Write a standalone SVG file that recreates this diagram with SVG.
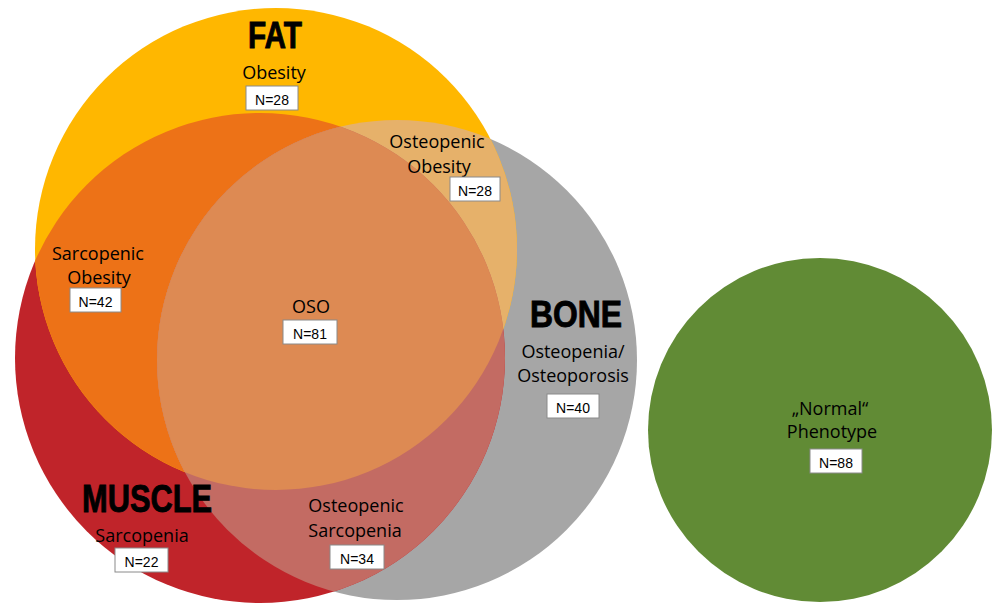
<svg xmlns="http://www.w3.org/2000/svg" width="992" height="603" viewBox="0 0 992 603">
<style>
.lbl{font-family:"Open Sans","Liberation Sans",sans-serif;font-size:18px;fill:#000;text-anchor:middle}
.ttl{font-family:"Liberation Sans",Arial,sans-serif;font-weight:bold;font-size:36px;fill:#000;stroke:#000;stroke-width:0.9}
.nb{fill:#fff;stroke:#8a8a8a;stroke-width:1}
.nt{font-family:"Liberation Sans",Arial,sans-serif;font-size:14px;fill:#000;text-anchor:middle}
</style>
<defs>
<circle id="fatC" cx="276" cy="249" r="241"/>
<circle id="musC" cx="260" cy="358" r="245"/>
<circle id="bonC" cx="397" cy="360" r="240"/>
<clipPath id="cF"><use href="#fatC"/></clipPath>
<clipPath id="cM"><use href="#musC"/></clipPath>
</defs>
<rect width="992" height="603" fill="#fff"/>
<g id="bone">
<use href="#bonC" fill="#a6a6a6"/>
</g>
<g id="muscle">
<use href="#musC" fill="#c0242a"/>
</g>
<g id="fat">
<use href="#fatC" fill="#ffb700"/>
</g>
<g id="sarcopenic-obesity-region">
<use href="#musC" fill="#ed7217" clip-path="url(#cF)"/>
</g>
<g id="osteopenic-obesity-region">
<use href="#bonC" fill="#e6b16a" clip-path="url(#cF)"/>
</g>
<g id="osteopenic-sarcopenia-region">
<use href="#bonC" fill="#c36b63" clip-path="url(#cM)"/>
</g>
<g id="oso-region" clip-path="url(#cF)">
<use href="#bonC" fill="#dd8a53" clip-path="url(#cM)"/>
</g>
<g id="normal">
<circle cx="820" cy="430" r="172" fill="#618b35"/>
</g>

<g id="fat-label">
<text class="ttl" x="248" y="48" textLength="54" lengthAdjust="spacingAndGlyphs">FAT</text>
<text class="lbl" x="274" y="79">Obesity</text>
<rect class="nb" x="246" y="86" width="52" height="24"/>
<text class="nt" x="272" y="105">N=28</text>
</g>
<g id="osteopenic-obesity">
<text class="lbl" x="437" y="148">Osteopenic</text>
<text class="lbl" x="439" y="173">Obesity</text>
<rect class="nb" x="450" y="177" width="50" height="24"/>
<text class="nt" x="475" y="196">N=28</text>
</g>
<g id="sarcopenic-obesity">
<text class="lbl" x="98" y="260">Sarcopenic</text>
<text class="lbl" x="99" y="284">Obesity</text>
<rect class="nb" x="70" y="288" width="51" height="24"/>
<text class="nt" x="95.5" y="307">N=42</text>
</g>
<g id="oso">
<text class="lbl" x="311" y="313">OSO</text>
<rect class="nb" x="283" y="320" width="54" height="24"/>
<text class="nt" x="310" y="339">N=81</text>
</g>
<g id="bone-label">
<text class="ttl" x="530" y="327" textLength="92" lengthAdjust="spacingAndGlyphs">BONE</text>
<text class="lbl" x="573" y="358">Osteopenia/</text>
<text class="lbl" x="573" y="382">Osteoporosis</text>
<rect class="nb" x="547" y="394" width="52" height="24"/>
<text class="nt" x="573" y="413">N=40</text>
</g>
<g id="muscle-label">
<text class="ttl" x="82" y="512" style="font-size:38px" textLength="130" lengthAdjust="spacingAndGlyphs">MUSCLE</text>
<text class="lbl" x="142" y="542">Sarcopenia</text>
<rect class="nb" x="115" y="548" width="53" height="24"/>
<text class="nt" x="141.5" y="567">N=22</text>
</g>
<g id="osteopenic-sarcopenia">
<text class="lbl" x="356" y="512">Osteopenic</text>
<text class="lbl" x="355" y="537">Sarcopenia</text>
<rect class="nb" x="330" y="545" width="54" height="24"/>
<text class="nt" x="357" y="564">N=34</text>
</g>
<g id="normal-label">
<text class="lbl" x="830" y="415">„Normal“</text>
<text class="lbl" x="832" y="438">Phenotype</text>
<rect class="nb" x="810" y="449" width="52" height="24"/>
<text class="nt" x="836" y="468">N=88</text>
</g>
<g id="connectors"/>
</svg>
